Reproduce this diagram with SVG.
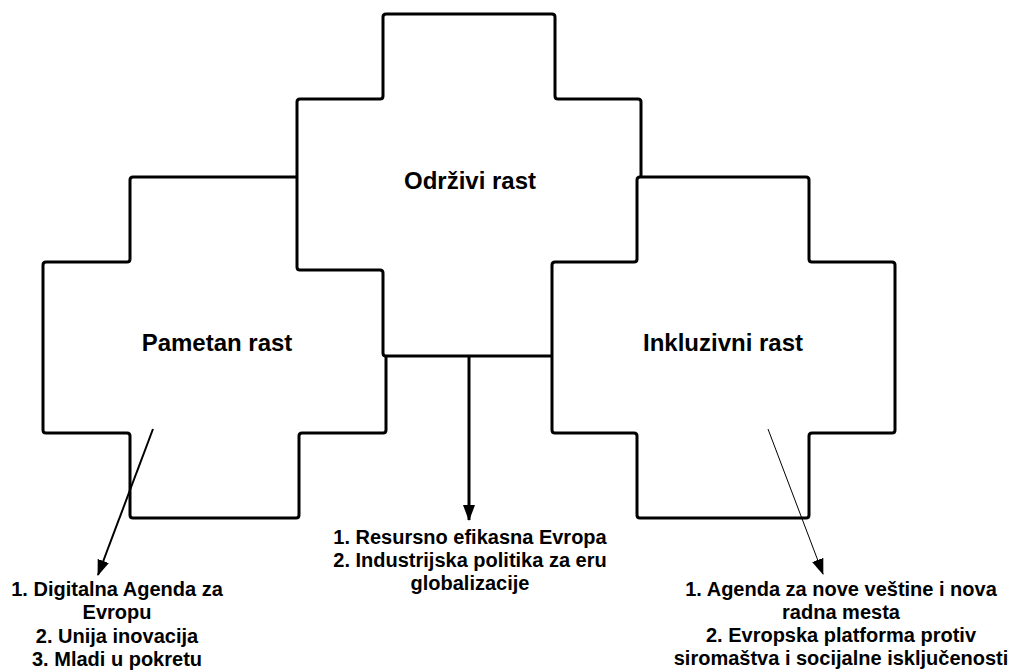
<svg xmlns="http://www.w3.org/2000/svg" width="1011" height="672" viewBox="0 0 1011 672">
<defs>
<style>
.cross{fill:#ffffff;stroke:#000000;stroke-width:3;stroke-linejoin:round}
.lbl{font-family:"Liberation Sans",Arial,sans-serif;font-weight:bold;font-size:24px;fill:#000000;text-anchor:middle}
.note{font-family:"Liberation Sans",Arial,sans-serif;font-weight:bold;font-size:20px;fill:#000000;text-anchor:middle}
.conn{stroke:#000000;fill:none}
</style>
<marker id="ah" viewBox="0 0 16 12" refX="15" refY="6" markerWidth="16" markerHeight="12" markerUnits="userSpaceOnUse" orient="auto">
<path d="M0,0 L16,6 L0,12 Z" fill="#000000"/>
</marker>
</defs>
<rect width="1011" height="672" fill="#ffffff"/>
<g id="pametan-rast">
<path class="cross" d="M133,177 H296 Q299,177 299,180 V259 Q299,262 302,262 H383 Q386,262 386,265 V430 Q386,433 383,433 H302 Q299,433 299,436 V515 Q299,518 296,518 H133 Q130,518 130,515 V436 Q130,433 127,433 H46 Q43,433 43,430 V265 Q43,262 46,262 H127 Q130,262 130,259 V180 Q130,177 133,177 Z"/>
<text class="lbl" x="217" y="351">Pametan rast</text>
</g>
<g id="odrzivi-rast">
<path class="cross" d="M386,14 H552 Q555,14 555,17 V96 Q555,99 558,99 H638 Q641,99 641,102 V267 Q641,270 638,270 H558 Q555,270 555,273 V353 Q555,356 552,356 H386 Q383,356 383,353 V273 Q383,270 380,270 H300 Q297,270 297,267 V102 Q297,99 300,99 H380 Q383,99 383,96 V17 Q383,14 386,14 Z"/>
<text class="lbl" x="470" y="189">Održivi rast</text>
</g>
<g id="inkluzivni-rast">
<path class="cross" d="M640,177 H806 Q809,177 809,180 V259 Q809,262 812,262 H892 Q895,262 895,265 V430 Q895,433 892,433 H812 Q809,433 809,436 V515 Q809,518 806,518 H640 Q637,518 637,515 V436 Q637,433 634,433 H555 Q552,433 552,430 V265 Q552,262 555,262 H634 Q637,262 637,259 V180 Q637,177 640,177 Z"/>
<text class="lbl" x="723" y="351">Inkluzivni rast</text>
</g>
<g id="connectors">
<line class="conn" x1="153" y1="429" x2="98" y2="575" stroke-width="2" marker-end="url(#ah)"/>
<line class="conn" x1="469" y1="356" x2="469" y2="520" stroke-width="3" marker-end="url(#ah)"/>
<line class="conn" x1="768" y1="429" x2="823" y2="574" stroke-width="1" marker-end="url(#ah)"/>
</g>
<g id="note-pametan">
<text class="note" x="117" y="596">1. Digitalna Agenda za</text>
<text class="note" x="117" y="619">Evropu</text>
<text class="note" x="117" y="643">2. Unija inovacija</text>
<text class="note" x="117" y="666">3. Mladi u pokretu</text>
</g>
<g id="note-odrzivi">
<text class="note" x="470" y="544">1. Resursno efikasna Evropa</text>
<text class="note" x="470" y="567">2. Industrijska politika za eru</text>
<text class="note" x="470" y="590">globalizacije</text>
</g>
<g id="note-inkluzivni">
<text class="note" x="841" y="596">1. Agenda za nove veštine i nova</text>
<text class="note" x="841" y="619">radna mesta</text>
<text class="note" x="841" y="642">2. Evropska platforma protiv</text>
<text class="note" x="841" y="665">siromaštva i socijalne isključenosti</text>
</g>
</svg>
